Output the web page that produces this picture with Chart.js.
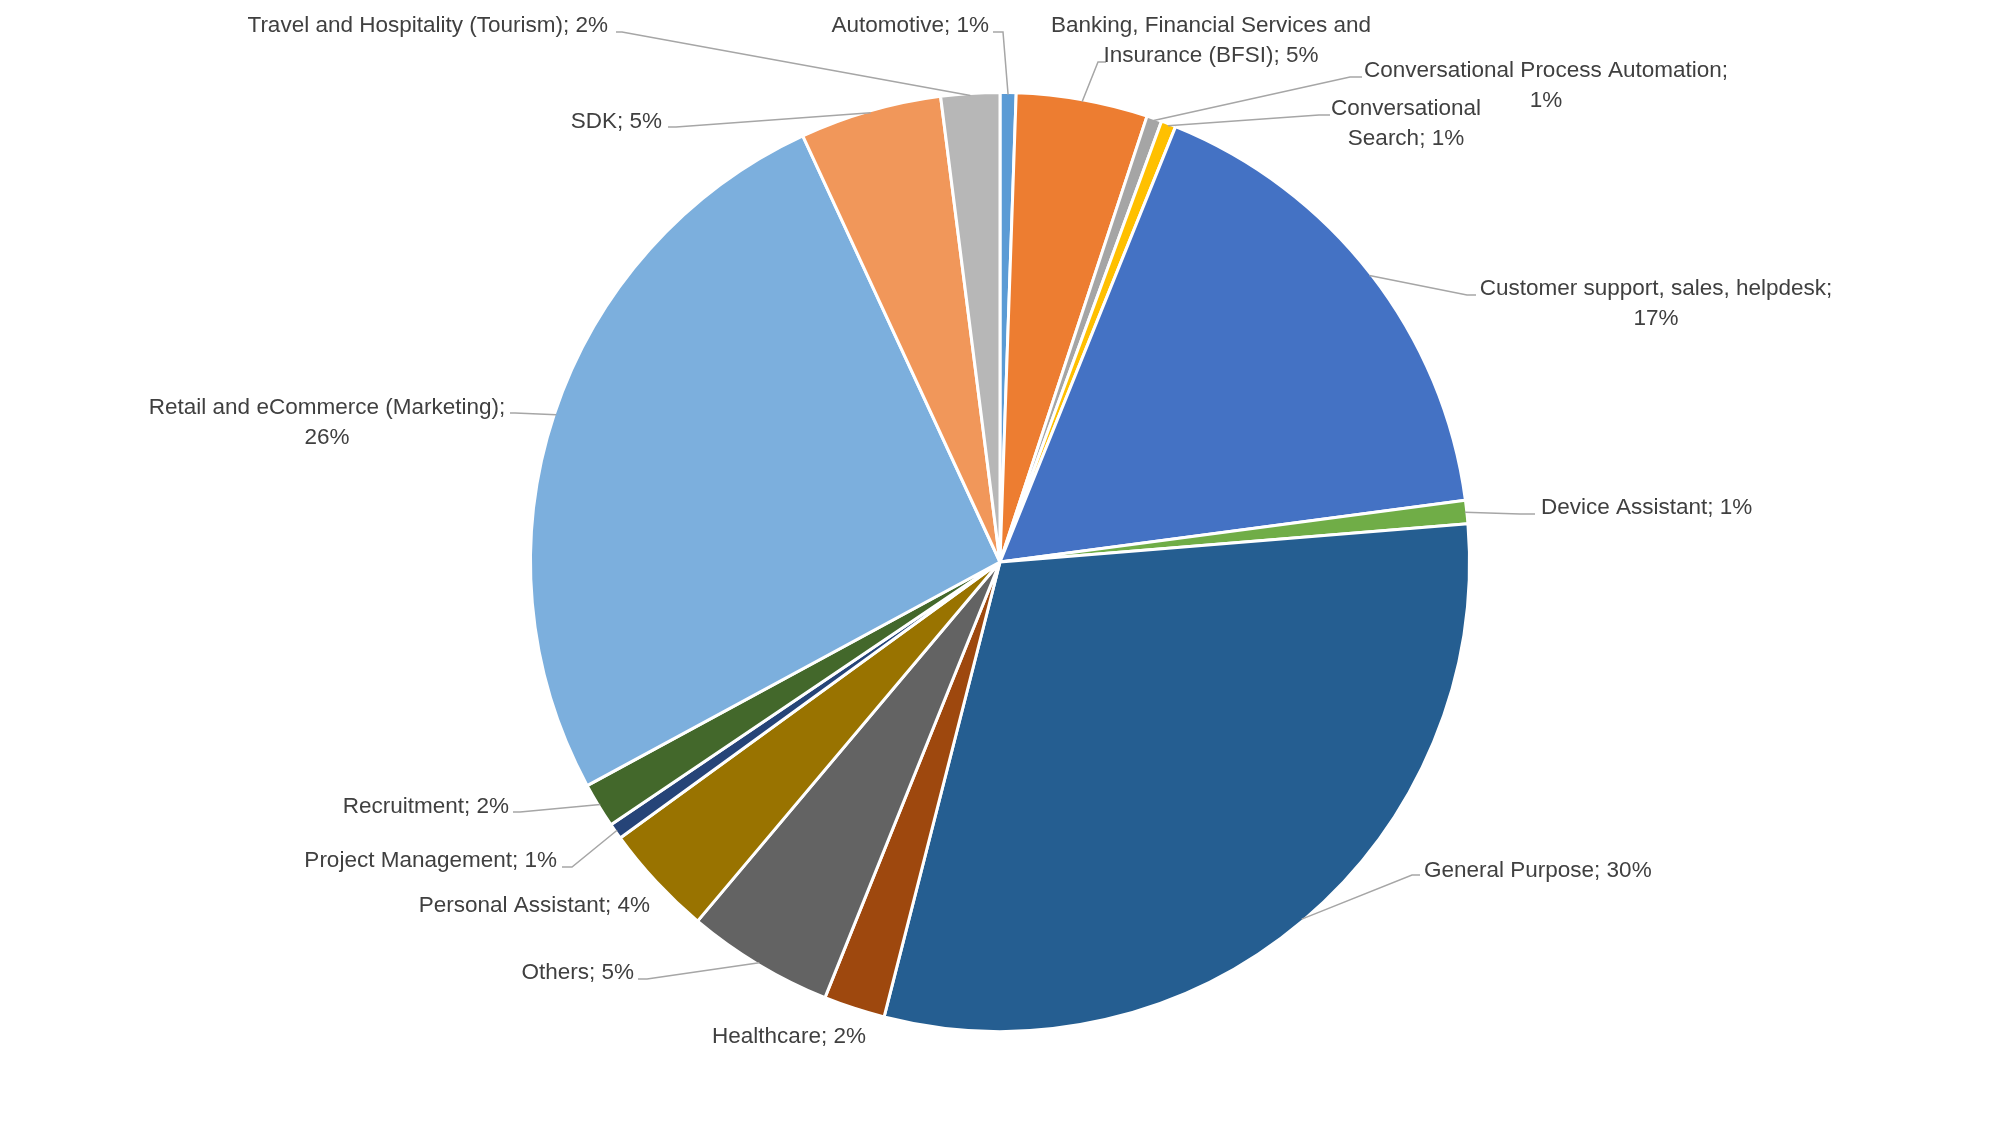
<!DOCTYPE html>
<html>
<head>
<meta charset="utf-8">
<script src="https://cdn.jsdelivr.net/npm/chart.js@4"></script>
<style>
    html, body { margin: 0; padding: 0; background: #ffffff; }
    #grafico { display: block; }
</style>
</head>
<body>
<canvas id="grafico" width="2000" height="1125"></canvas>
<script>
// categorias y porcentajes
const categorias = [
    'Automotive',
    'Banking, Financial Services and Insurance (BFSI)',
    'Conversational Process Automation',
    'Conversational Search',
    'Customer support, sales, helpdesk',
    'Device Assistant',
    'General Purpose',
    'Healthcare',
    'Others',
    'Personal Assistant',
    'Project Management',
    'Recruitment',
    'Retail and eCommerce (Marketing)',
    'SDK',
    'Travel and Hospitality (Tourism)'
];
const porcentajes = [0.55, 4.52, 0.52, 0.51, 16.8, 0.8, 30.27, 2.11, 5.06, 3.86, 0.55, 1.55, 26.0, 4.88, 2.02];

const colores = [
    '#5B9BD5', '#ED7D31', '#A5A5A5', '#FFC000', '#4472C4',
    '#70AD47', '#255E91', '#9E480E', '#636363', '#997300',
    '#264478', '#43682B', '#7CAFDD', '#F1975A', '#B7B7B7'
];

// ubicacion de las etiquetas (x, linea base, alineacion, palabras en la 1a linea, linea guia)
const posEtiquetas = [
    { x: 989,  y: 32,  align: 'right',  wrap: 0, guia: [1003, 32, 993, 32] },
    { x: 1211, y: 32,  align: 'center', wrap: 4, guia: [1098, 62, 1106, 62] },
    { x: 1546, y: 77,  align: 'center', wrap: 3, guia: [1350, 77, 1362, 77] },
    { x: 1406, y: 115, align: 'center', wrap: 1, guia: [1319, 115, 1330, 115] },
    { x: 1656, y: 295, align: 'center', wrap: 4, guia: [1467, 295, 1476, 295] },
    { x: 1541, y: 514, align: 'left',   wrap: 0, guia: [1520, 514, 1535, 514] },
    { x: 1424, y: 877, align: 'left',   wrap: 0, guia: [1412, 875, 1420, 875] },
    { x: 789,  y: 1043, align: 'center', wrap: 0, guia: null },
    { x: 634,  y: 979, align: 'right',  wrap: 0, guia: [647, 979, 638, 979] },
    { x: 650,  y: 912, align: 'right',  wrap: 0, guia: null },
    { x: 557,  y: 867, align: 'right',  wrap: 0, guia: [572, 867, 562, 867] },
    { x: 509,  y: 813, align: 'right',  wrap: 0, guia: [520, 812, 513, 812] },
    { x: 327,  y: 414, align: 'center', wrap: 4, guia: [515, 413, 510, 413] },
    { x: 662,  y: 128, align: 'right',  wrap: 0, guia: [676, 127, 668, 127] },
    { x: 608,  y: 32,  align: 'right',  wrap: 0, guia: [622, 32, 616, 32] }
];

const fuente = '22.5px "Liberation Sans", Arial, sans-serif';

// Plugin para dibujar las etiquetas con lineas guia
const etiquetasPlugin = {
    id: 'etiquetasFuera',
    afterDatasetsDraw(chart) {
        const ctx = chart.ctx;
        const meta = chart.getDatasetMeta(0);
        const total = porcentajes.reduce((a, b) => a + b, 0);

        ctx.save();
        meta.data.forEach((arco, i) => {
            const p = posEtiquetas[i];
            const props = arco.getProps(['x', 'y', 'startAngle', 'endAngle', 'outerRadius'], true);
            const medio = (props.startAngle + props.endAngle) / 2;
            const r = props.outerRadius - 2;
            const px = props.x + Math.cos(medio) * r;
            const py = props.y + Math.sin(medio) * r;

            // linea guia
            if (p.guia) {
                ctx.beginPath();
                ctx.moveTo(px, py);
                ctx.lineTo(p.guia[0], p.guia[1]);
                ctx.lineTo(p.guia[2], p.guia[3]);
                ctx.strokeStyle = '#A6A6A6';
                ctx.lineWidth = 1.5;
                ctx.stroke();
            }

            // texto
            const pct = Math.round(porcentajes[i] / total * 100);
            const texto = categorias[i] + '; ' + pct + '%';
            let lineas = [texto];
            if (p.wrap > 0) {
                const palabras = texto.split(' ');
                lineas = [palabras.slice(0, p.wrap).join(' '), palabras.slice(p.wrap).join(' ')];
            }
            ctx.font = fuente;
            ctx.fillStyle = '#404040';
            ctx.textBaseline = 'alphabetic';
            ctx.textAlign = p.align;
            lineas.forEach((linea, j) => {
                ctx.fillText(linea, p.x, p.y + j * 30);
            });
        });
        ctx.restore();
    }
};

new Chart(document.getElementById('grafico'), {
    type: 'pie',
    data: {
        labels: categorias,
        datasets: [{
            data: porcentajes,
            backgroundColor: colores,
            borderColor: '#ffffff',
            borderWidth: 3
        }]
    },
    options: {
        responsive: false,
        animation: false,
        devicePixelRatio: 1,
        layout: {
            padding: { top: 91, bottom: 92, left: 500, right: 500 }
        },
        plugins: {
            legend: { display: false },
            tooltip: { enabled: false }
        }
    },
    plugins: [etiquetasPlugin]
});
</script>
</body>
</html>
